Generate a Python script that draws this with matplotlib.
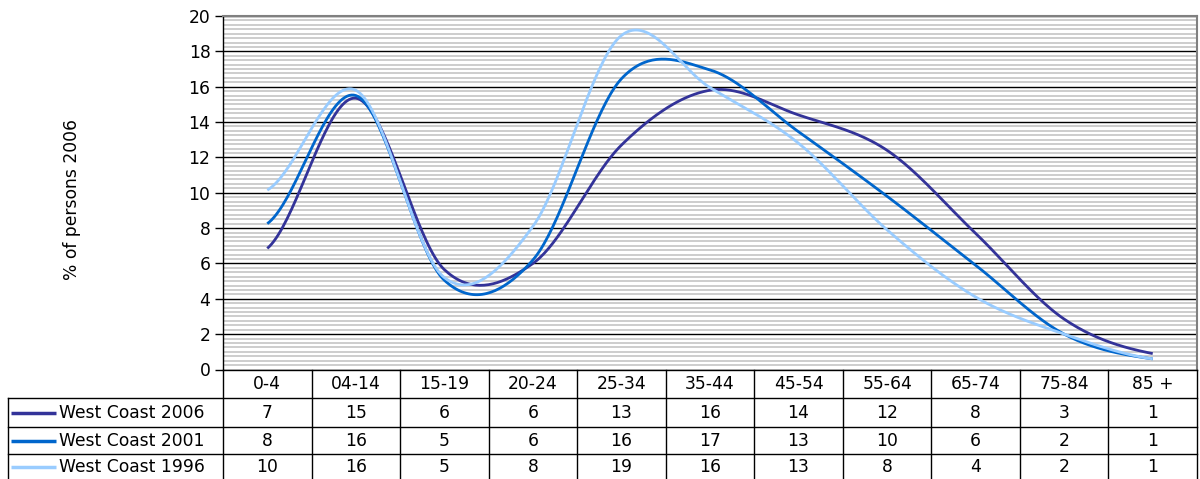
import numpy as np
import matplotlib
matplotlib.use("Agg")
import matplotlib.pyplot as plt

# share of persons by age group, West Coast census years
age_groups = ["0-4", "04-14", "15-19", "20-24", "25-34", "35-44",
              "45-54", "55-64", "65-74", "75-84", "85 +"]
wc_2006 = [6.85, 15.35, 5.65, 6.0, 12.7, 15.8, 14.4, 12.4, 7.7, 2.85, 0.9]
wc_2001 = [8.25, 15.5, 5.05, 6.2, 16.45, 16.95, 13.45, 9.8, 5.9, 2.0, 0.6]
wc_1996 = [10.15, 15.8, 5.2, 8.1, 18.9, 15.95, 12.8, 7.9, 4.1, 2.0, 0.6]
series_names = ["West Coast 2006", "West Coast 2001", "West Coast 1996"]
series_colors = ["#333399", "#0066cc", "#99ccff"]
series = [wc_2006, wc_2001, wc_1996]

W, H = 1200, 479
PL, PR, PT, PB = 223, 1197, 16, 369.5     # plot area in pixels
ROW_Y = [370, 398, 427, 454, 479]          # data table row edges
TAB_L = 8
FS = 12.3


def smooth(y, n=40):
    """Cardinal (Catmull-Rom) spline through the points, like a smoothed line."""
    y = np.asarray(y, float)
    m = np.empty_like(y)
    m[1:-1] = (y[2:] - y[:-2]) / 2
    m[0] = (y[1] - y[0]) / 2
    m[-1] = (y[-1] - y[-2]) / 2
    xs, ys = [], []
    t = np.linspace(0, 1, n, endpoint=False)
    h00 = 2 * t**3 - 3 * t**2 + 1
    h10 = t**3 - 2 * t**2 + t
    h01 = -2 * t**3 + 3 * t**2
    h11 = t**3 - t**2
    for i in range(len(y) - 1):
        xs.append(i + t)
        ys.append(h00 * y[i] + h10 * m[i] + h01 * y[i + 1] + h11 * m[i + 1])
    xs.append([len(y) - 1])
    ys.append([y[-1]])
    return np.concatenate(xs), np.concatenate(ys)


fig = plt.figure(figsize=(W / 100, H / 100), dpi=100)
ax = fig.add_axes([PL / W, 1 - PB / H, (PR - PL) / W, (PB - PT) / H])

n = len(age_groups)
for vals, col in zip(series, series_colors):
    xs, ys = smooth(vals)
    ax.plot(xs, ys, color=col, lw=2.0, solid_capstyle="butt", zorder=3)

ax.set_xlim(-0.5, n - 0.5)
ax.set_ylim(0, 20)
ax.set_yticks(np.arange(0, 21, 2))
ax.set_yticks(np.arange(0, 20, 0.25), minor=True)
ax.set_xticks([])
ax.grid(axis="y", which="minor", color="#c0c0c0", lw=1.1, zorder=0)
ax.grid(axis="y", which="major", color="black", lw=1.0, zorder=1)
ax.tick_params(axis="y", which="major", direction="out", length=6, width=1,
               labelsize=FS, pad=3)
ax.tick_params(axis="y", which="minor", length=0)
for s in ("top", "right"):
    ax.spines[s].set_color("#808080")
    ax.spines[s].set_linewidth(1.5)
for s in ("left", "bottom"):
    ax.spines[s].set_color("black")
    ax.spines[s].set_linewidth(1.0)

fig.text(72 / W, 1 - 200 / H, "% of persons 2006", rotation=90,
         ha="center", va="center", fontsize=FS)

# data table under the plot, drawn in pixel coordinates
tab = fig.add_axes([0, 0, 1, 1], zorder=5)
tab.set_xlim(0, W)
tab.set_ylim(H, 0)
tab.axis("off")
colw = (PR - PL) / n
edges = [PL + i * colw for i in range(n + 1)]
for x in edges:
    tab.plot([x, x], [ROW_Y[0], H], color="black", lw=1.0)
tab.plot([TAB_L, TAB_L], [ROW_Y[1], H], color="black", lw=1.0)
for y in ROW_Y[1:4]:
    tab.plot([TAB_L, PR], [y, y], color="black", lw=1.0)

for i, lab in enumerate(age_groups):
    cx = (edges[i] + edges[i + 1]) / 2
    tab.text(cx, (ROW_Y[0] + ROW_Y[1]) / 2, lab, ha="center", va="center",
             fontsize=FS)

for r, (name, col, vals) in enumerate(zip(series_names, series_colors, series)):
    cy = (ROW_Y[r + 1] + ROW_Y[r + 2]) / 2
    tab.plot([11, 56], [cy, cy], color=col, lw=2.5, solid_capstyle="butt")
    tab.text(59, cy, name, ha="left", va="center", fontsize=FS)
    for i, v in enumerate(vals):
        cx = (edges[i] + edges[i + 1]) / 2
        tab.text(cx, cy, f"{int(np.floor(v + 0.5))}", ha="center",
                 va="center", fontsize=FS)

fig.savefig("out.png", dpi=100)
